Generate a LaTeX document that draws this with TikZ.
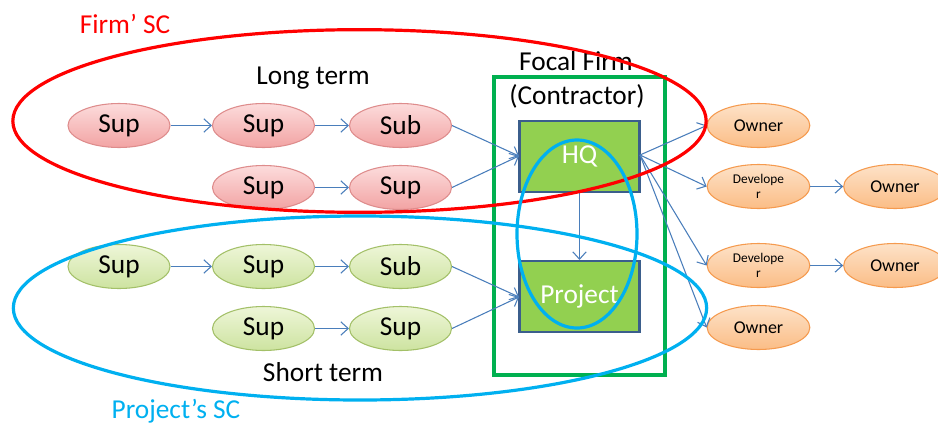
\documentclass[tikz,border=0pt]{standalone}
\usepackage{fontspec}
\setmainfont{Carlito}
\usetikzlibrary{arrows.meta,shapes.geometric}
\definecolor{arrowblue}{HTML}{4A7EBB}
\definecolor{redline}{HTML}{FF0000}
\definecolor{cyanline}{HTML}{00B0F0}
\definecolor{greenline}{HTML}{00B050}
\definecolor{boxfill}{HTML}{92D050}
\definecolor{boxedge}{HTML}{3B5E8C}
\definecolor{pinktop}{HTML}{FCDCDC}
\definecolor{pinkbot}{HTML}{F2A3A3}
\definecolor{pinkedge}{HTML}{DE8C8C}
\definecolor{limetop}{HTML}{EEF6D8}
\definecolor{limebot}{HTML}{CDE3A0}
\definecolor{limeedge}{HTML}{A3C068}
\definecolor{orgtop}{HTML}{FDE2C8}
\definecolor{orgbot}{HTML}{FBBD86}
\definecolor{orgedge}{HTML}{F59A4E}
\tikzset{
  base/.style={ellipse, minimum width=76.5pt, minimum height=33pt, inner sep=0pt,
    line width=0.8pt, font=\fontsize{20.5}{24}\selectfont},
  pinknode/.style={base, draw=pinkedge, top color=pinktop, bottom color=pinkbot},
  limenode/.style={base, draw=limeedge, top color=limetop, bottom color=limebot},
  orgnode/.style={base, draw=orgedge, top color=orgtop, bottom color=orgbot,
    minimum width=77pt, font=\fontsize{13.5}{16}\selectfont},
  devnode/.style={orgnode, align=center, font=\fontsize{10}{11.25}\selectfont},
  unitbox/.style={rectangle, draw=boxedge, fill=boxfill, line width=1.8pt,
    minimum width=90pt, minimum height=53pt, text=white, font=\fontsize{20.5}{24}\selectfont},
  flow/.style={draw=arrowblue, line width=0.8pt, -{Straight Barb[length=5.5pt,width=10pt]}},
  lbl/.style={font=\fontsize{20.5}{24}\selectfont, inner sep=0pt},
}
\begin{document}
\begin{tikzpicture}[x=0.75pt,y=-0.75pt]
\useasboundingbox (0,0) rectangle (938,425);
% focal firm frame
\draw[greenline, line width=2.4pt] (494,77) rectangle (665,375);
\node[lbl] (focal) at (576,61) {Focal Firm};
\node[lbl] (contr) at (577,96) {(Contractor)};
% boxes
\node[unitbox] (hq) at (579.5,156.5) {HQ};
\node[unitbox] (proj) at (579.5,296.5) {Project};
% long term nodes
\node[pinknode] (r1) at (119,125.5) {Sup};
\node[pinknode] (r2) at (263.5,125.5) {Sup};
\node[pinknode] (r3) at (400.5,125.5) {Sub};
\node[pinknode] (r4) at (263.5,187.5) {Sup};
\node[pinknode] (r5) at (400.5,187.5) {Sup};
% short term nodes
\node[limenode] (g1) at (119,266.5) {Sup};
\node[limenode] (g2) at (263.5,266.5) {Sup};
\node[limenode] (g3) at (400.5,266.5) {Sub};
\node[limenode] (g4) at (263.5,328.5) {Sup};
\node[limenode] (g5) at (400.5,328.5) {Sup};
% customers
\node[orgnode] (o1) at (758.5,125.5) {Owner};
\node[devnode] (d1) at (758.5,186.5) {Develope\\r};
\node[orgnode] (o2) at (895,186.5) {Owner};
\node[devnode] (d2) at (758.5,265.5) {Develope\\r};
\node[orgnode] (o3) at (895,265.5) {Owner};
\node[orgnode] (o4) at (758.5,327.5) {Owner};
% labels
\node[lbl] (lt) at (313,78) {Long term};
\node[lbl] (st) at (323,372) {Short term};
\node[lbl, text=redline] (fsc) at (125,24) {Firm’ SC};
\node[lbl, text=cyanline] (psc) at (176,411) {Project’s SC};
% connectors
\coordinate (hqin) at (519,156);
\coordinate (hqout) at (640,155);
\coordinate (pjin) at (519,297);
\draw[flow] (r1) -- (r2);
\draw[flow] (r2) -- (r3);
\draw[flow] (r4) -- (r5);
\draw[flow] (r3.east) -- (hqin);
\draw[flow] (r5.east) -- (hqin);
\draw[flow] (g1) -- (g2);
\draw[flow] (g2) -- (g3);
\draw[flow] (g4) -- (g5);
\draw[flow] (g3.east) -- (pjin);
\draw[flow] (g5.east) -- (pjin);
\draw[flow] (hq.south) -- (proj.north);
\draw[flow] (hqout) -- (o1.west);
\draw[flow] (hqout) -- (d1.west);
\draw[flow] (hqout) -- (d2.west);
\draw[flow] (hqout) -- (o4.west);
\draw[flow] (d1) -- (o2);
\draw[flow] (d2) -- (o3);
% supply chain outlines
\draw[redline, line width=2.4pt] (359.5,121) ellipse [x radius=260pt, y radius=68.5pt];
\draw[cyanline, line width=2.4pt] (360,308) ellipse [x radius=260pt, y radius=69pt];
\draw[cyanline, line width=2.4pt] (577,234) ellipse [x radius=45pt, y radius=70.5pt];
\end{tikzpicture}
\end{document}
